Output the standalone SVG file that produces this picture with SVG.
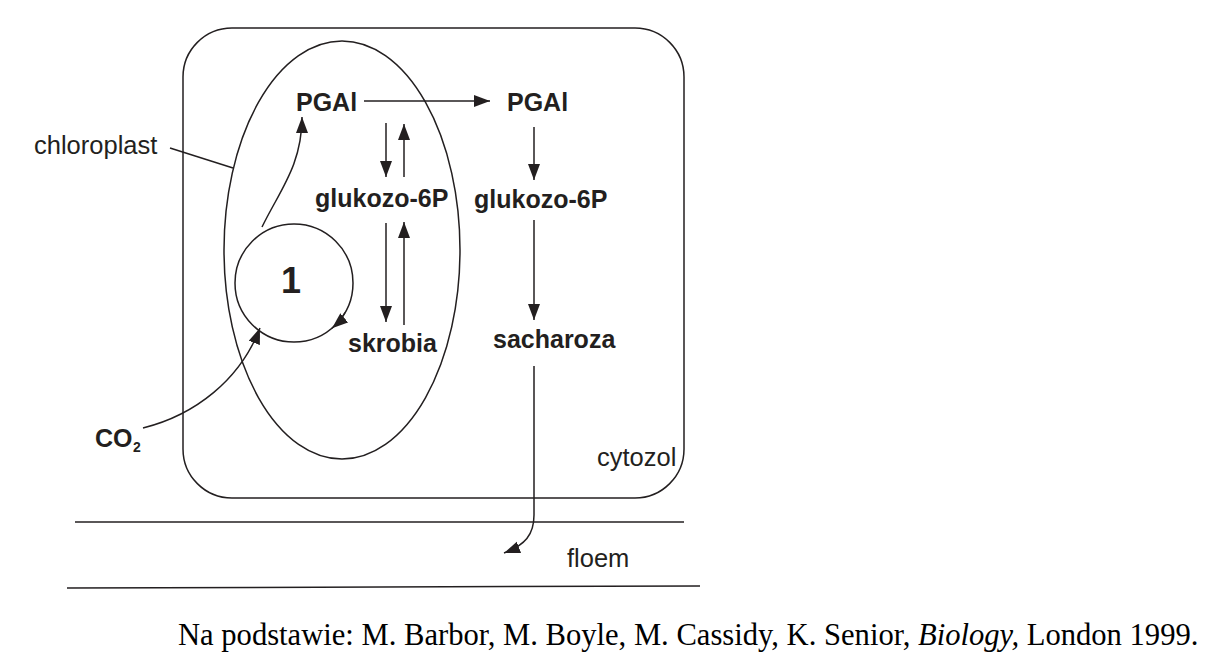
<svg xmlns="http://www.w3.org/2000/svg" width="1217" height="665" viewBox="0 0 1217 665">
<style>
.ln{fill:none;stroke:#231f20;stroke-width:1.5}
.b{font-family:"Liberation Sans",Arial,sans-serif;font-weight:bold;font-size:25px;fill:#231f20}
.n{font-family:"Liberation Sans",Arial,sans-serif;font-size:25.5px;fill:#231f20}
.c{font-family:"Liberation Serif","Times New Roman",serif;font-size:30.6px;fill:#000}
</style>
<defs>
<marker id="ah" markerUnits="userSpaceOnUse" markerWidth="17" markerHeight="13" refX="16" refY="6" orient="auto">
<path d="M0,0 L16,6 L0,12 Z" fill="#231f20"/>
</marker>
</defs>
<rect fill="#fff" width="1217" height="665"/>
<g id="cytozol">
<rect class="ln" x="183" y="28" width="501" height="470" rx="49" ry="49"/>
<text class="n" x="597" y="466">cytozol</text>
</g>
<g id="chloroplast">
<ellipse class="ln" cx="342" cy="250" rx="118" ry="209"/>
<text class="n" x="34" y="154">chloroplast</text>
<line class="ln" x1="170" y1="148" x2="233" y2="168"/>
</g>
<g id="cycle1">
<circle class="ln" cx="294" cy="283" r="59"/>
<text class="b" x="291" y="293" text-anchor="middle" style="font-size:36px">1</text>
</g>
<g id="floem">
<line class="ln" x1="75" y1="522" x2="684" y2="522"/>
<line class="ln" x1="67" y1="588" x2="700" y2="586"/>
<text class="n" x="567" y="567">floem</text>
</g>
<g id="pgal1"><text class="b" x="296" y="111">PGAl</text></g>
<g id="pgal2"><text class="b" x="507" y="111">PGAl</text></g>
<g id="g6p1"><text class="b" x="315" y="207">glukozo-6P</text></g>
<g id="g6p2"><text class="b" x="474" y="208">glukozo-6P</text></g>
<g id="skrobia"><text class="b" x="348" y="352">skrobia</text></g>
<g id="sacharoza"><text class="b" x="493" y="348">sacharoza</text></g>
<g id="co2"><text class="b" x="95" y="447">CO<tspan x="133" y="452" style="font-size:14px">2</tspan></text></g>
<g id="connectors">
<path class="ln" marker-end="url(#ah)" d="M364,101 L490,101"/>
<path class="ln" marker-end="url(#ah)" d="M386,123 L386,177"/>
<path class="ln" marker-end="url(#ah)" d="M404,177 L404,124"/>
<path class="ln" marker-end="url(#ah)" d="M386,223 L386,322"/>
<path class="ln" marker-end="url(#ah)" d="M404,325 L404,222"/>
<path class="ln" marker-end="url(#ah)" d="M534,127 L534,180"/>
<path class="ln" marker-end="url(#ah)" d="M534,220 L534,320"/>
<path class="ln" marker-end="url(#ah)" d="M534,366 L534,515 C534,535 525,545 504,553"/>
<path class="ln" marker-end="url(#ah)" d="M262,227 C280,190 302,165 302,117"/>
<path class="ln" marker-end="url(#ah)" d="M345.1,312.5 A59,59 0 0,1 332,328.2"/>
<path class="ln" marker-end="url(#ah)" d="M143,428 C195,415 240,380 260,328"/>
</g>
<text class="c" x="178" y="645">Na podstawie: M. Barbor, M. Boyle, M. Cassidy, K. Senior, <tspan font-style="italic">Biology,</tspan> London 1999.</text>
</svg>
